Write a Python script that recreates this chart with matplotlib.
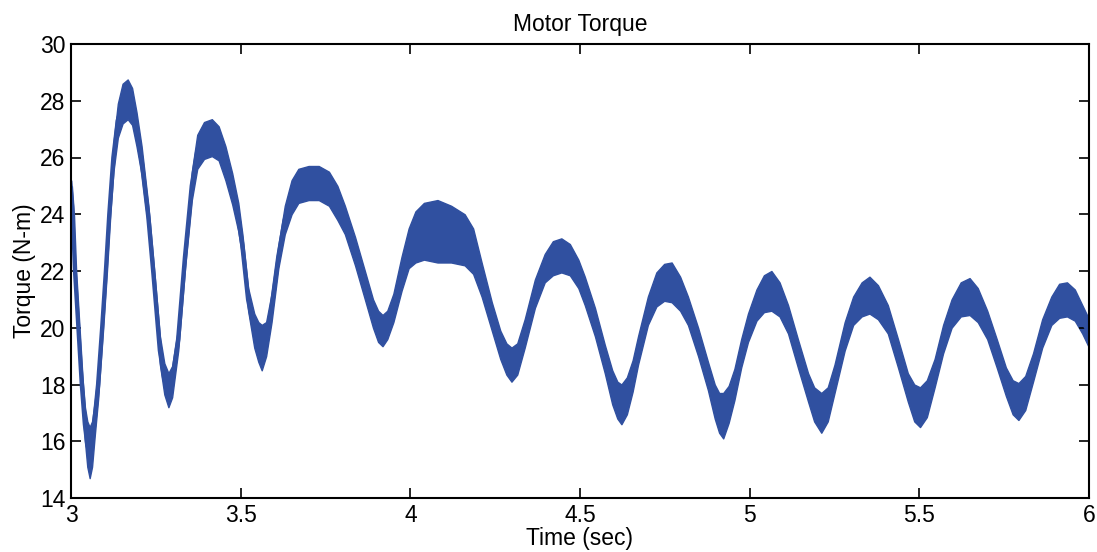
import numpy as np
import matplotlib
matplotlib.use("Agg")
import matplotlib.pyplot as plt

# --------------------------------------------------
# DATA
# time in seconds, band centre in N-m, ripple half-height in N-m
# --------------------------------------------------
time_s = [
    3.000, 3.006, 3.012, 3.022, 3.032, 3.041, 3.048, 3.055, 3.062, 3.070,
    3.080, 3.092, 3.103, 3.113, 3.125, 3.138, 3.152, 3.167, 3.180, 3.193,
    3.208, 3.228, 3.243, 3.262, 3.275, 3.287, 3.298, 3.316, 3.336, 3.356,
    3.372, 3.392, 3.415, 3.435, 3.455, 3.475, 3.493, 3.505, 3.522, 3.540,
    3.552, 3.562, 3.575, 3.591, 3.611, 3.630, 3.650, 3.670, 3.700, 3.730,
    3.760, 3.785, 3.807, 3.837, 3.866, 3.890, 3.905, 3.918, 3.932, 3.950,
    3.974, 3.995, 4.015, 4.040, 4.080, 4.120, 4.160, 4.185, 4.210, 4.240,
    4.265, 4.283, 4.298, 4.315, 4.337, 4.367, 4.396, 4.420, 4.445, 4.470,
    4.495, 4.514, 4.544, 4.573, 4.595, 4.610, 4.622, 4.638, 4.655, 4.671,
    4.700, 4.725, 4.748, 4.770, 4.795, 4.818, 4.848, 4.877, 4.897, 4.910,
    4.922, 4.938, 4.955, 4.975, 4.995, 5.020, 5.042, 5.064, 5.088, 5.113,
    5.142, 5.172, 5.190, 5.211, 5.230, 5.250, 5.280, 5.305, 5.330, 5.353,
    5.378, 5.407, 5.437, 5.466, 5.485, 5.502, 5.522, 5.545, 5.570, 5.595,
    5.622, 5.648, 5.672, 5.700, 5.728, 5.755, 5.775, 5.792, 5.812, 5.835,
    5.862, 5.889, 5.912, 5.935, 5.958, 5.980, 6.000,
]

torque = [
    24.9, 23.9, 22.0, 20.0, 18.0, 16.6, 15.9, 15.6, 15.9, 16.8,
    18.0, 20.0, 22.0, 24.0, 26.0, 27.3, 27.9, 28.05, 27.8, 27.0,
    25.9, 23.9, 21.9, 19.2, 18.2, 17.8, 18.1, 19.6, 22.5, 25.0,
    26.2, 26.6, 26.7, 26.5, 25.8, 24.9, 23.9, 22.9, 21.0, 19.9,
    19.5, 19.3, 19.6, 20.7, 22.5, 23.8, 24.6, 25.0, 25.1, 25.1,
    24.9, 24.4, 23.8, 22.7, 21.5, 20.5, 20.05, 19.9, 20.1, 20.7,
    21.9, 22.8, 23.2, 23.4, 23.4, 23.3, 23.1, 22.7, 21.7, 20.4,
    19.4, 18.9, 18.7, 18.9, 19.8, 21.2, 22.1, 22.45, 22.55, 22.4,
    21.9, 21.3, 20.2, 18.9, 17.9, 17.45, 17.3, 17.6, 18.3, 19.2,
    20.6, 21.35, 21.6, 21.6, 21.2, 20.6, 19.5, 18.3, 17.4, 17.0,
    16.9, 17.3, 18.0, 19.1, 20.0, 20.8, 21.2, 21.3, 21.0, 20.3,
    19.1, 17.9, 17.3, 17.0, 17.3, 18.2, 19.7, 20.6, 21.0, 21.15,
    20.9, 20.3, 19.1, 17.9, 17.35, 17.2, 17.5, 18.4, 19.6, 20.5,
    21.0, 21.1, 20.8, 20.1, 19.1, 18.1, 17.55, 17.4, 17.7, 18.6,
    19.8, 20.6, 20.95, 21.0, 20.8, 20.3, 19.8,
]

ripple = [
    0.3, 0.4, 0.4, 0.4, 0.5, 0.6, 0.8, 0.9, 0.8, 0.6,
    0.5, 0.4, 0.4, 0.4, 0.5, 0.6, 0.7, 0.7, 0.65, 0.6,
    0.5, 0.4, 0.4, 0.5, 0.55, 0.6, 0.55, 0.4, 0.4, 0.5,
    0.6, 0.65, 0.65, 0.6, 0.6, 0.55, 0.5, 0.4, 0.4, 0.6,
    0.7, 0.8, 0.6, 0.5, 0.4, 0.5, 0.6, 0.6, 0.6, 0.6,
    0.6, 0.6, 0.5, 0.5, 0.5, 0.5, 0.55, 0.55, 0.5, 0.5,
    0.6, 0.7, 0.9, 1.0, 1.1, 1.0, 0.9, 0.8, 0.6, 0.5,
    0.5, 0.55, 0.6, 0.55, 0.5, 0.5, 0.5, 0.6, 0.6, 0.55,
    0.5, 0.5, 0.5, 0.5, 0.6, 0.65, 0.7, 0.65, 0.55, 0.5,
    0.5, 0.6, 0.65, 0.7, 0.6, 0.5, 0.5, 0.5, 0.6, 0.7,
    0.8, 0.65, 0.55, 0.5, 0.5, 0.55, 0.65, 0.7, 0.6, 0.5,
    0.5, 0.5, 0.6, 0.7, 0.6, 0.5, 0.5, 0.5, 0.6, 0.65,
    0.6, 0.5, 0.5, 0.5, 0.65, 0.7, 0.65, 0.5, 0.5, 0.5,
    0.6, 0.65, 0.6, 0.5, 0.5, 0.5, 0.6, 0.65, 0.6, 0.5,
    0.5, 0.5, 0.6, 0.6, 0.55, 0.5, 0.5,
]

x_ticks = [3, 3.5, 4, 4.5, 5, 5.5, 6]
x_tick_labels = ["3", "3.5", "4", "4.5", "5", "5.5", "6"]
y_ticks = [14, 16, 18, 20, 22, 24, 26, 28, 30]

LINE_COLOR = "#3050a0"
FONT_SIZE = 16.5

# --------------------------------------------------
# PLOT
# --------------------------------------------------
plt.rcParams["font.family"] = ["Liberation Sans", "DejaVu Sans"]

t = np.array(time_s)
c = np.array(torque)
r = np.array(ripple)

fig = plt.figure(figsize=(10.97, 5.52), dpi=100)
ax = fig.add_axes([71 / 1097, 54 / 552, 1018 / 1097, 454 / 552])

# ripple band plus a thick centre line so steep slopes keep their width
ax.fill_between(t, c - r, c + r, color=LINE_COLOR, lw=1.0)
ax.plot(t, c, color=LINE_COLOR, lw=3.2, solid_joinstyle="round")

ax.set_xlim(3, 6)
ax.set_ylim(14, 30)
ax.set_xticks(x_ticks)
ax.set_xticklabels(x_tick_labels)
ax.set_yticks(y_ticks)

ax.tick_params(direction="in", top=True, right=True, length=7, width=1.2,
               labelsize=FONT_SIZE, pad=4)
for s in ax.spines.values():
    s.set_linewidth(1.5)

ax.set_title("Motor Torque", fontsize=FONT_SIZE, pad=9)
ax.set_xlabel("Time (sec)", fontsize=FONT_SIZE, labelpad=0)
ax.set_ylabel("Torque (N-m)", fontsize=FONT_SIZE, labelpad=3)

fig.savefig("out.png", dpi=100)
